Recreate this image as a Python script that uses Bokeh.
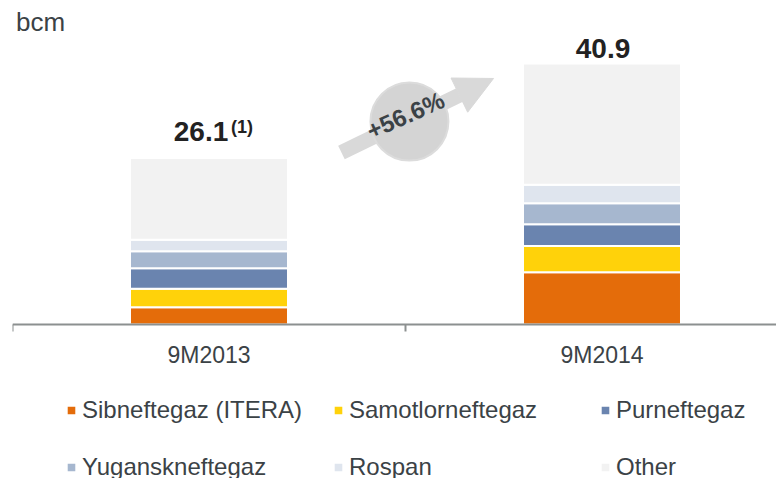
from bokeh.plotting import figure
from bokeh.models import (ColumnDataSource, Range1d, Legend, LegendItem,
                          Label, Arrow, NormalHead, Span)
from bokeh.core.properties import value
from bokeh.embed import file_html
from bokeh.resources import INLINE

# ---------------- data ----------------
categories = ["9M2013", "9M2014"]
series_labels = ["Sibneftegaz (ITERA)", "Samotlorneftegaz", "Purneftegaz",
                 "Yuganskneftegaz", "Rospan", "Other"]
sibneftegaz = [2.7, 8.2]
samotlorneftegaz = [2.9, 4.1]
purneftegaz = [3.2, 3.4]
yuganskneftegaz = [2.7, 3.3]
rospan = [1.8, 2.9]
other = [12.8, 19.0]
totals = [26.1, 40.9]
growth_label = "+56.6%"
unit_label = "bcm"
footnote_mark = "(1)"

colors = ["#E46C0A", "#FFD20A", "#6A84AF", "#A6B7CF", "#DFE5EE", "#F2F2F2"]
keys = ["sib", "sam", "pur", "yug", "ros", "oth"]

xs = [i + 0.5 for i in range(len(categories))]
bounds = list(range(len(categories) + 1))
source = ColumnDataSource(dict(x=xs, sib=sibneftegaz, sam=samotlorneftegaz,
                               pur=purneftegaz, yug=yuganskneftegaz,
                               ros=rospan, oth=other))

FONT = "Liberation Sans"
TXT = "#3b4246"
GRAY = "#8C9090"

px_per_cat = 393.0
px_per_unit = 6.38
frame_w = 764
above_px = 316      # frame pixels above the category axis
below_px = 154      # frame pixels below the category axis

p = figure(width=776, height=478,
           x_range=Range1d(0, frame_w / px_per_cat),
           y_range=Range1d(-below_px / px_per_unit, above_px / px_per_unit),
           output_backend="svg", toolbar_location=None,
           min_border_left=12, min_border_right=0, min_border_top=8,
           min_border_bottom=0, x_axis_location=None, y_axis_location=None)
p.outline_line_color = None
p.xgrid.visible = False
p.ygrid.visible = False
p.background_fill_color = "white"
p.border_fill_color = "white"

# ---------------- bars ----------------
renderers = p.vbar_stack(keys, x="x", width=0.402, color=colors, source=source,
                         line_color="white", line_width=2)

# ---------------- category axis ----------------
p.add_layout(Span(location=0, dimension="width", line_color=GRAY, line_width=2))
p.segment(x0=bounds, y0=[0] * len(bounds), x1=bounds,
          y1=[-7 / px_per_unit] * len(bounds), line_color=GRAY, line_width=2)
p.text(x=xs, y=[0] * len(xs), text=categories, y_offset=30,
       text_align="center", text_baseline="alphabetic",
       text_font=value(FONT), text_font_size="23px", text_color=TXT)

# ---------------- total labels ----------------
p.text(x=[xs[0]], y=[totals[0]], text=[f"{totals[0]:.1f}"], x_offset=-8, y_offset=-26.5,
       text_align="center", text_baseline="alphabetic",
       text_font=value(FONT), text_font_style="bold", text_font_size="28px",
       text_color="#222222")
p.text(x=[xs[0]], y=[totals[0]], text=[footnote_mark], x_offset=22, y_offset=-31,
       text_align="left", text_baseline="alphabetic",
       text_font=value(FONT), text_font_style="bold", text_font_size="18px",
       text_color="#222222")
p.text(x=[xs[1]], y=[totals[1]], text=[f"{totals[1]:.1f}"], x_offset=1, y_offset=-15.5,
       text_align="center", text_baseline="alphabetic",
       text_font=value(FONT), text_font_style="bold", text_font_size="28px",
       text_color="#222222")

# ---------------- growth arrow ----------------
arrow = Arrow(end=NormalHead(size=38, fill_color="#D9D9D9", line_color="#D9D9D9"),
              x_start=1 - 0.163, y_start=totals[0] + 0.86,
              x_end=1 + 0.224, y_end=totals[1] - 2.34,
              line_color="#D9D9D9", line_width=15, level="underlay")
p.add_layout(arrow)
p.scatter(x=[1.01], y=[31.8], size=78, marker="circle",
          fill_color="#D4D4D4", line_color="#DCDCDC", line_width=2)
p.text(x=[1.0], y=[32.8], text=[growth_label], angle=0.42,
       text_align="center", text_baseline="middle",
       text_font=value(FONT), text_font_style="bold", text_font_size="24px",
       text_color=TXT)

# ---------------- unit label ----------------
p.add_layout(Label(x=0.009, y=45.0, text=unit_label, text_font=FONT,
                   text_font_size="26px", text_color=TXT))

# ---------------- legend ----------------
cols = [[0, 3], [1, 4], [2, 5]]
col_offsets = [53, 320, 587]
for idxs, xo in zip(cols, col_offsets):
    leg = Legend(items=[LegendItem(label=series_labels[i], renderers=[renderers[i]])
                        for i in idxs],
                 location=(xo, -2.5), orientation="vertical", spacing=29,
                 padding=0, margin=0, glyph_width=12, glyph_height=12,
                 label_standoff=5, label_text_font=FONT,
                 label_text_font_size="24px", label_text_color=TXT,
                 border_line_color=None, background_fill_alpha=0)
    p.add_layout(leg, "center")

open("out.html", "w").write(file_html(p, INLINE))
